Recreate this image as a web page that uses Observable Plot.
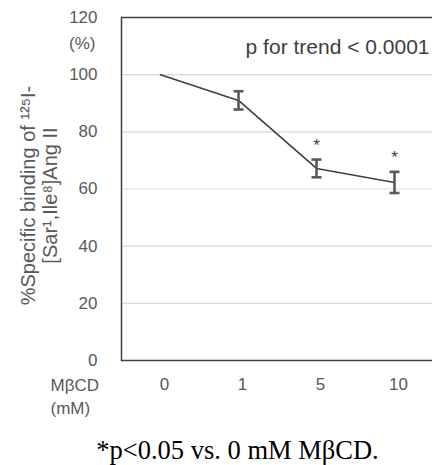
<!DOCTYPE html>
<html>
<head>
<meta charset="utf-8">
<script src="https://cdn.jsdelivr.net/npm/d3@7"></script>
<script src="https://cdn.jsdelivr.net/npm/@observablehq/plot@0.6"></script>
<style>
  html, body { margin: 0; padding: 0; background: white; }
</style>
</head>
<body>
<div id="chart"></div>
<script>
const doses = ["0", "1", "5", "10"];
const means = [100, 91.0, 67.2, 62.3];
const sems = [0, 3.2, 3.1, 3.7];
const significant = [false, false, true, true];
const yTicks = [0, 20, 40, 60, 80, 100, 120];
const gridValues = [20, 40, 60, 80, 100];
const frameValues = [0, 120];
const yTitle1 = "%Specific binding of ¹²⁵I-";
const yTitle2 = "[Sar¹,Ile⁸]Ang II";
const yUnit = "(%)";
const xTitle1 = "MβCD";
const xTitle2 = "(mM)";
const trendText = "p for trend < 0.0001";
const caption = "*p<0.05 vs. 0 mM MβCD.";

const data = doses.map((d, i) => ({dose: d, mean: means[i], sem: sems[i], sig: significant[i]}));
const errData = data.filter(d => d.sem > 0);
const sigData = data.filter(d => d.sig);

const cap = {
  draw(ctx, size) {
    const h = Math.sqrt(size / Math.PI);
    ctx.moveTo(-h, 0);
    ctx.lineTo(h, 0);
  }
};

const grey = "#595959";
const dark = "#404040";

const chart = Plot.plot({
  width: 432,
  height: 465,
  marginTop: 17,
  marginBottom: 105,
  marginLeft: 121,
  marginRight: 0,
  style: {fontFamily: "'Liberation Sans', Arial, sans-serif", fontSize: "17px", background: "white", color: grey},
  x: {type: "point", domain: doses, padding: 0.47},
  y: {domain: [0, 120]},
  marks: [
    Plot.ruleY(gridValues, {stroke: "#d9d9d9", strokeWidth: 1.2}),
    Plot.ruleY(frameValues, {stroke: dark, strokeWidth: 1.5}),
    Plot.frame({anchor: "left", stroke: dark, strokeWidth: 1.5}),
    Plot.axisY({ticks: yTicks, tickSize: 0, tickPadding: 24, fontSize: 17, fill: grey, label: null}),
    Plot.axisX({tickSize: 0, tickPadding: 17, fontSize: 17, fill: grey, dx: 4, label: null}),
    Plot.line(data, {x: "dose", y: "mean", stroke: dark, strokeWidth: 1.6}),
    Plot.ruleX(errData, {x: "dose", y1: d => d.mean - d.sem, y2: d => d.mean + d.sem, stroke: grey, strokeWidth: 2.6}),
    Plot.dot(errData, {x: "dose", y: d => d.mean + d.sem, symbol: cap, r: 5, stroke: grey, strokeWidth: 2.6}),
    Plot.dot(errData, {x: "dose", y: d => d.mean - d.sem, symbol: cap, r: 5, stroke: grey, strokeWidth: 2.6}),
    Plot.text(sigData, {x: "dose", y: d => d.mean + d.sem, text: () => "*", dy: -14, fontSize: 17, fill: dark}),
    Plot.text([trendText], {text: d => d, frameAnchor: "top-right", textAnchor: "end", lineAnchor: "bottom", dx: -3, dy: 36, fontSize: 21, fill: dark}),
    Plot.text([yUnit], {text: d => d, frameAnchor: "top-left", textAnchor: "end", lineAnchor: "middle", dx: -26, dy: 26, fontSize: 17, fill: grey}),
    Plot.text([yTitle1], {text: d => d, frameAnchor: "left", textAnchor: "middle", lineAnchor: "middle", rotate: -90, dx: -93, dy: 6.5, fontSize: 20, fill: grey}),
    Plot.text([yTitle2], {text: d => d, frameAnchor: "left", textAnchor: "middle", lineAnchor: "middle", rotate: -90, dx: -71, dy: 6.5, fontSize: 20, fill: grey}),
    Plot.text([xTitle1], {text: d => d, frameAnchor: "bottom-left", textAnchor: "start", lineAnchor: "bottom", dx: -71, dy: 30, fontSize: 17, fill: grey}),
    Plot.text([xTitle2], {text: d => d, frameAnchor: "bottom-left", textAnchor: "start", lineAnchor: "bottom", dx: -71, dy: 53, fontSize: 17, fill: grey}),
    Plot.text([caption], {text: d => d, frameAnchor: "bottom", textAnchor: "middle", lineAnchor: "bottom", dx: -39.5, dy: 98, fontFamily: "'Liberation Serif', 'Times New Roman', serif", fontSize: 26.5, fill: "#000"})
  ]
});
document.getElementById("chart").appendChild(chart);
</script>
</body>
</html>
